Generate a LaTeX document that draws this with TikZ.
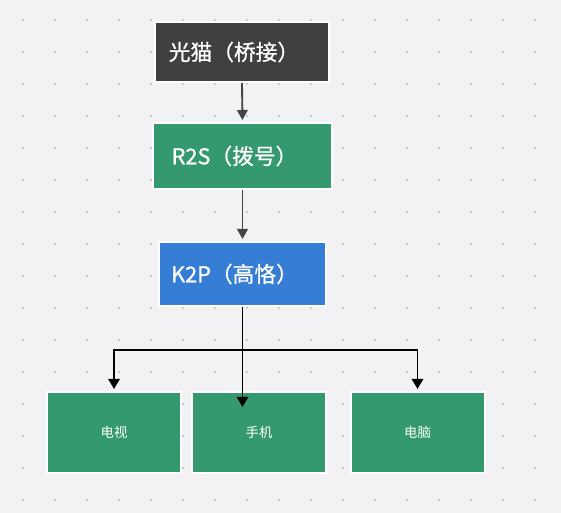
\documentclass[tikz,border=0pt]{standalone}
\usepackage{fontspec}
\setmainfont{Noto Sans CJK SC}
\newfontfamily\medfont{Noto Sans CJK SC}[FakeBold=0.8]
\usetikzlibrary{arrows.meta}
\definecolor{bg}{RGB}{242,242,244}
\definecolor{dotc}{RGB}{200,200,204}
\definecolor{darkbox}{RGB}{64,64,64}
\definecolor{greenbox}{RGB}{52,153,110}
\definecolor{bluebox}{RGB}{54,125,214}
\definecolor{arrgray}{RGB}{68,68,68}
\tikzset{
  box/.style={rectangle, draw=white, line width=1.5pt, inner sep=0pt, text=white, anchor=center},
  bigbox/.style={box, font=\medfont\fontsize{16.3}{19}\selectfont},
  smallbox/.style={box, font=\fontsize{10}{12}\selectfont, fill=greenbox, minimum width=100.5pt, minimum height=60.75pt},
  arrtop/.style={draw=arrgray, line width=1.4pt, -{Triangle[length=7.5pt,width=8pt]}, shorten >=1.5pt},
  arrbot/.style={draw=black, line width=1.3pt, -{Triangle[length=7.5pt,width=8.5pt]}, shorten >=1.5pt}
}
\begin{document}
\begin{tikzpicture}[x=0.75pt,y=-0.75pt]
\fill[bg] (0,0) rectangle (561,513);
\useasboundingbox (0,0) rectangle (561,513);
\foreach \i in {0,...,16} \foreach \j in {0,...,15} \fill[dotc] ({22+32*\i},{19+32*\j}) rectangle +(2,2);
\node[bigbox, fill=darkbox, minimum width=130.5pt, minimum height=45pt] (gm) at (242,52) {光猫（桥接）\hspace*{12pt}};
\node[bigbox, fill=greenbox, minimum width=134.25pt, minimum height=49.5pt] (r2s) at (242.5,156) {R2S（拨号）\hspace*{12pt}};
\node[bigbox, fill=bluebox, minimum width=125.25pt, minimum height=48pt] (k2p) at (242.5,274) {K2P（高恪）\hspace*{12pt}};
\node[smallbox] (tv) at (114,432.5) {电视};
\node[smallbox] (phone) at (259,432.5) {手机};
\node[smallbox] (pc) at (417.5,432.5) {电脑};
\coordinate (phonein) at (242.5,407);
\draw[arrtop] (gm.south) -- (r2s.north);
\draw[arrtop] (r2s.south) -- (k2p.north);
\draw[arrbot] (k2p.south) -- ++(0,43) -| (tv.north);
\draw[arrbot] (k2p.south) -- ++(0,43) -| (pc.north);
\draw[arrbot, shorten >=0pt] (k2p.south) -- (phonein);
\end{tikzpicture}
\end{document}
